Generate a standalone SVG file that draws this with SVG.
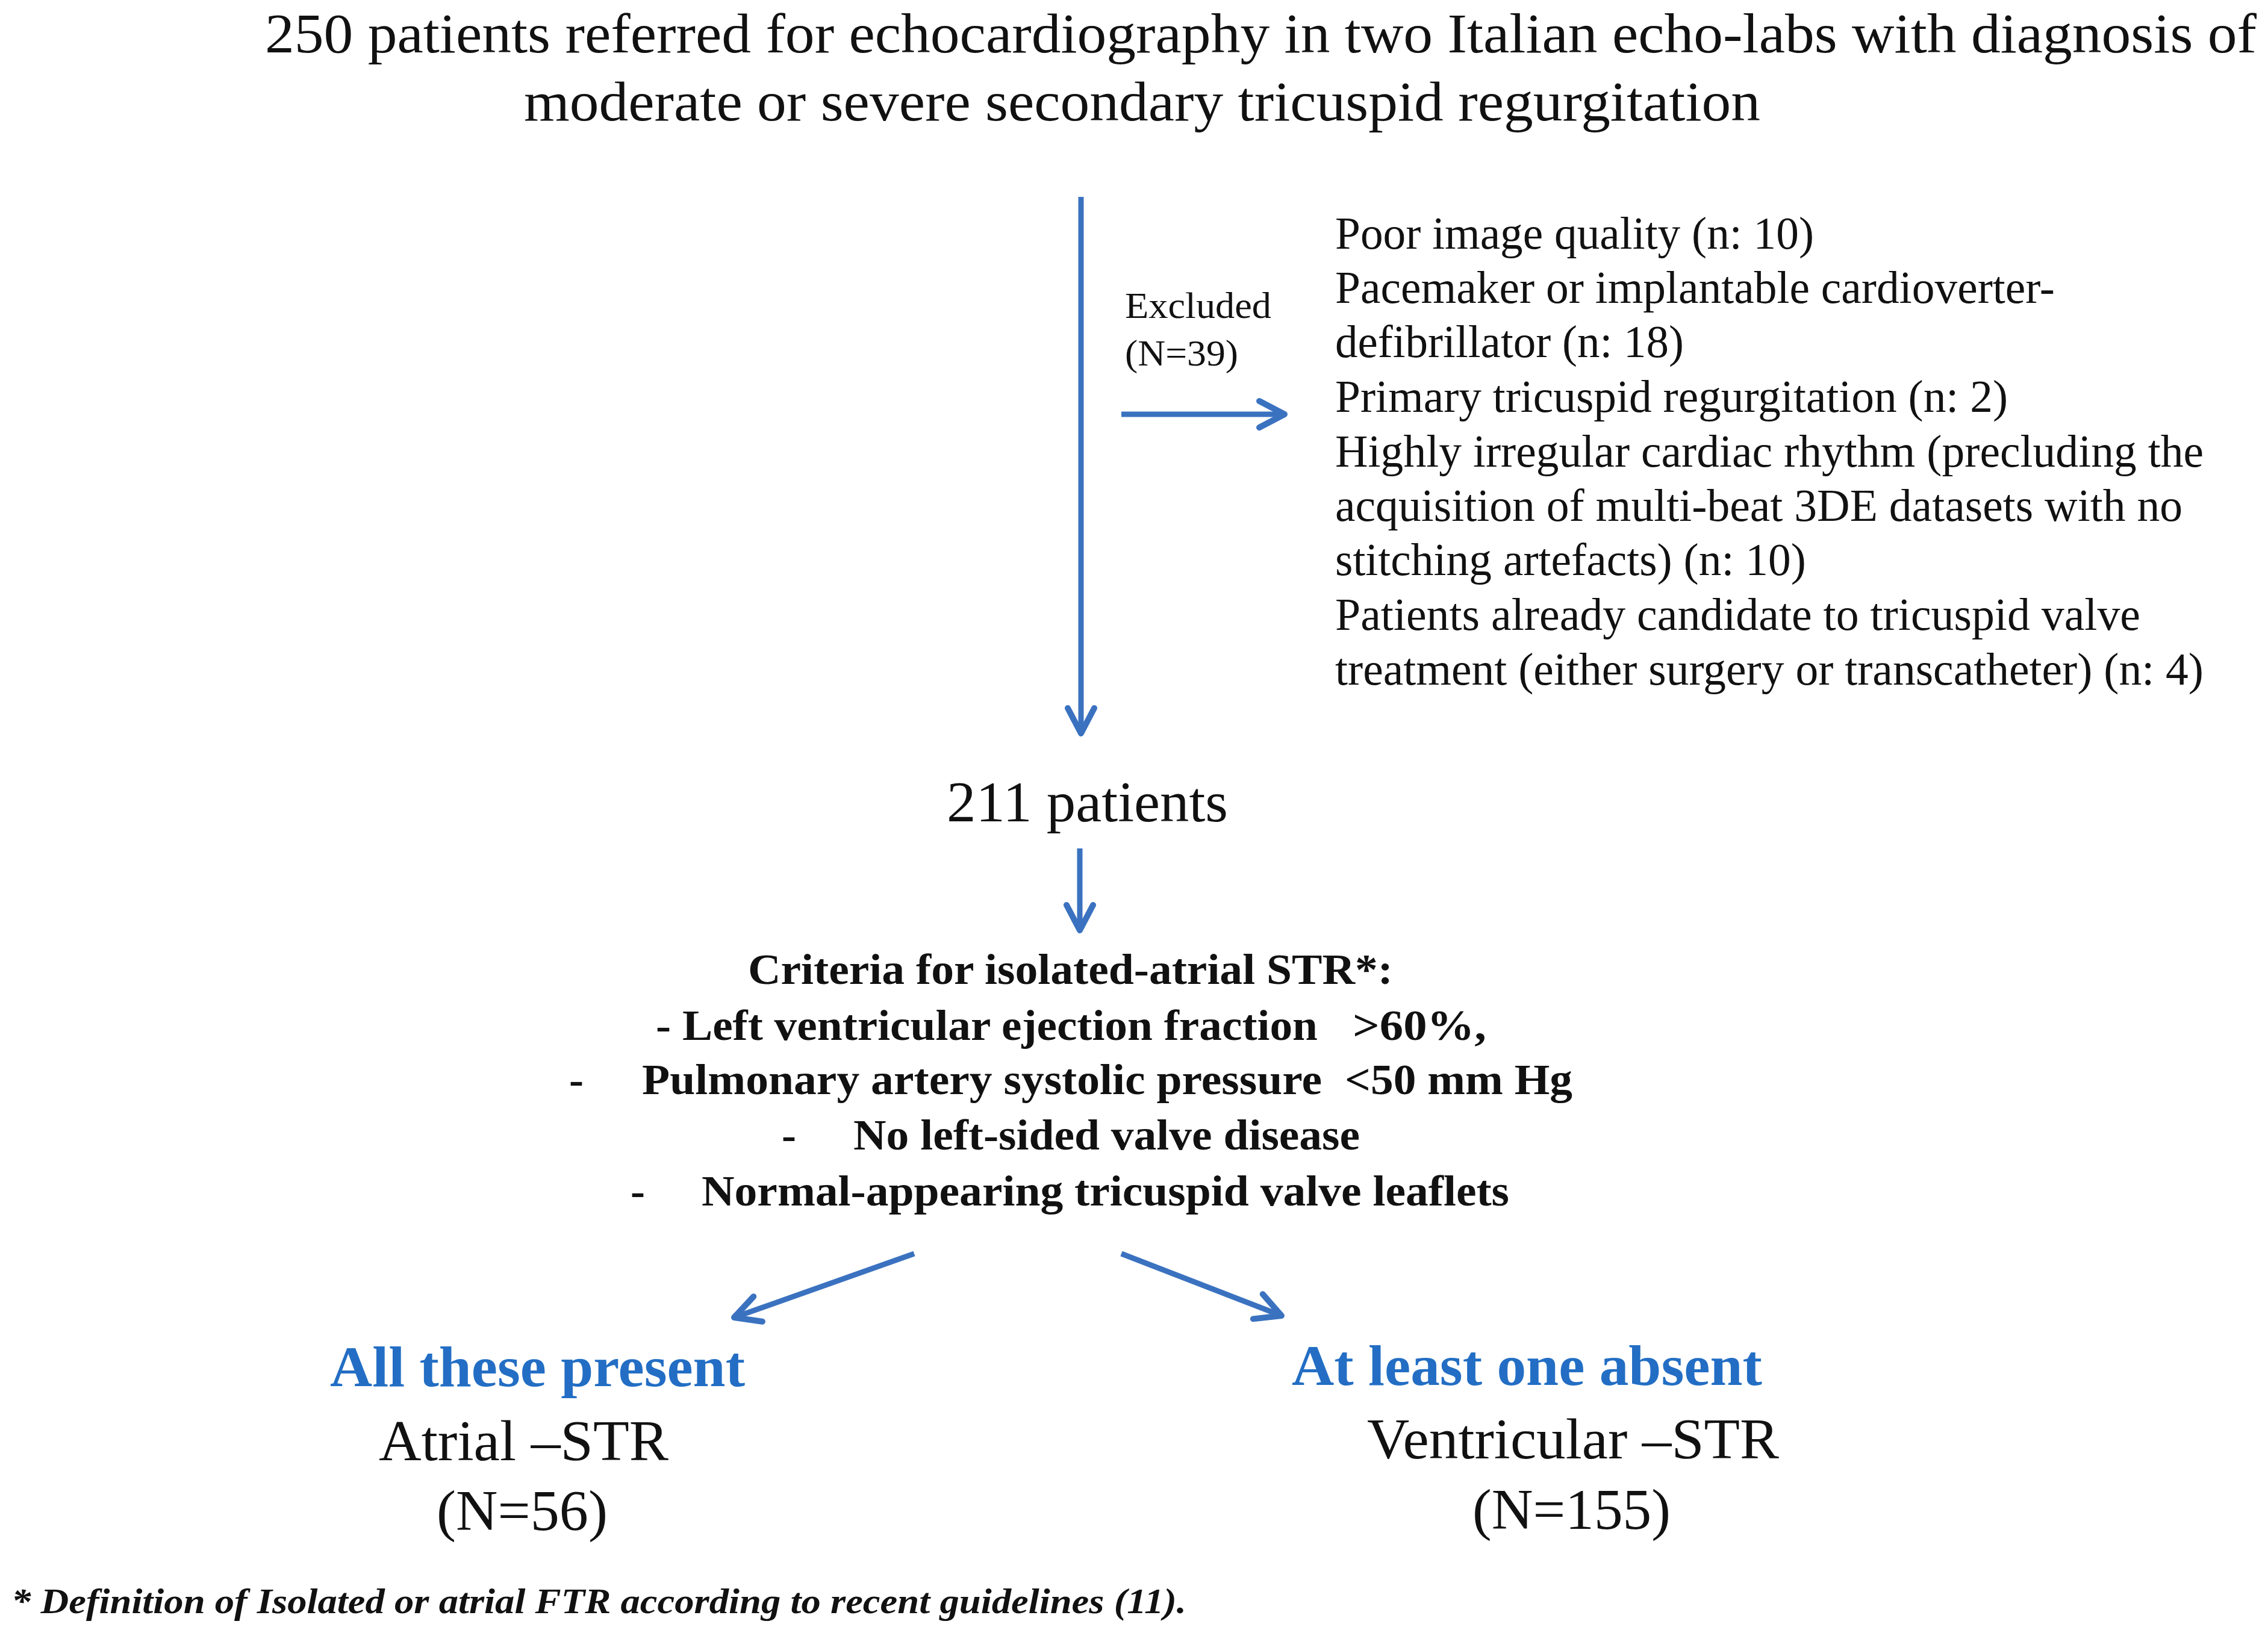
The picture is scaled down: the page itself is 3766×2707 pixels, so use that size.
<svg xmlns="http://www.w3.org/2000/svg" width="3766" height="2707" viewBox="0 0 3766 2707">
<style>
.t{font-family:"Liberation Serif","Times New Roman",serif;fill:#111}
.b{font-weight:bold}
.title{font-size:94px}
.lst{font-size:76px}
.exc{font-size:62px}
.crit{font-size:72px;font-weight:bold}
.big{font-size:96px}
.blue{font-size:96px;font-weight:bold;fill:#236EC4}
.foot{font-size:60px;font-weight:bold;font-style:italic}
.arr{stroke:#3B72C0;stroke-width:9;fill:none;marker-end:url(#ah)}
</style>
<defs>
<marker id="ah" markerUnits="userSpaceOnUse" markerWidth="60" markerHeight="60" refX="0" refY="0" orient="auto" overflow="visible" viewBox="-50 -30 60 60">
<path d="M -42 -22 L 0 0 L -42 22" fill="none" stroke="#3B72C0" stroke-width="10" stroke-linecap="round" stroke-linejoin="round"/>
</marker>
</defs>
<rect width="3766" height="2707" fill="#ffffff"/>
<g id="connectors">
<line class="arr" x1="1795" y1="327" x2="1795" y2="1218"/>
<line class="arr" x1="1862" y1="688" x2="2133" y2="688"/>
<line class="arr" x1="1793" y1="1409" x2="1793" y2="1545"/>
<line class="arr" x1="1518" y1="2082" x2="1219" y2="2188"/>
<line class="arr" x1="1862" y1="2082" x2="2128" y2="2185"/>
</g>
<g id="node-start">
<text class="t title" x="440" y="87" textLength="3307" lengthAdjust="spacingAndGlyphs">250 patients referred for echocardiography in two Italian echo-labs with diagnosis of</text>
<text class="t title" x="870" y="200" textLength="2053" lengthAdjust="spacingAndGlyphs">moderate or severe secondary tricuspid regurgitation</text>
</g>
<g id="label-excluded">
<text class="t exc" x="1868" y="528" textLength="243" lengthAdjust="spacingAndGlyphs">Excluded</text>
<text class="t exc" x="1868" y="607" textLength="188" lengthAdjust="spacingAndGlyphs">(N=39)</text>
</g>
<g id="node-exclusions">
<text class="t lst" x="2217" y="413" textLength="795" lengthAdjust="spacingAndGlyphs">Poor image quality (n: 10)</text>
<text class="t lst" x="2217" y="503" textLength="1195" lengthAdjust="spacingAndGlyphs">Pacemaker or implantable cardioverter-</text>
<text class="t lst" x="2217" y="593" textLength="579" lengthAdjust="spacingAndGlyphs">defibrillator (n: 18)</text>
<text class="t lst" x="2217" y="684" textLength="1117" lengthAdjust="spacingAndGlyphs">Primary tricuspid regurgitation (n: 2)</text>
<text class="t lst" x="2217" y="775" textLength="1442" lengthAdjust="spacingAndGlyphs">Highly irregular cardiac rhythm (precluding the</text>
<text class="t lst" x="2217" y="865" textLength="1407" lengthAdjust="spacingAndGlyphs">acquisition of multi-beat 3DE datasets with no</text>
<text class="t lst" x="2217" y="955" textLength="782" lengthAdjust="spacingAndGlyphs">stitching artefacts) (n: 10)</text>
<text class="t lst" x="2217" y="1046" textLength="1337" lengthAdjust="spacingAndGlyphs">Patients already candidate to tricuspid valve</text>
<text class="t lst" x="2217" y="1137" textLength="1442" lengthAdjust="spacingAndGlyphs">treatment (either surgery or transcatheter) (n: 4)</text>
</g>
<g id="node-211">
<text class="t big" x="1572" y="1364" textLength="467" lengthAdjust="spacingAndGlyphs">211 patients</text>
</g>
<g id="node-criteria">
<text class="t crit" x="1242" y="1634" textLength="1071" lengthAdjust="spacingAndGlyphs">Criteria for isolated-atrial STR*:</text>
<text class="t crit" x="1089" y="1727" textLength="1099" lengthAdjust="spacingAndGlyphs">- Left ventricular ejection fraction</text>
<text class="t crit" x="2246" y="1727" textLength="222" lengthAdjust="spacingAndGlyphs">&gt;60%,</text>
<text class="t crit" x="945" y="1817">-</text>
<text class="t crit" x="1066" y="1817" textLength="1129" lengthAdjust="spacingAndGlyphs">Pulmonary artery systolic pressure</text>
<text class="t crit" x="2233" y="1817" textLength="378" lengthAdjust="spacingAndGlyphs">&lt;50 mm Hg</text>
<text class="t crit" x="1298" y="1909">-</text>
<text class="t crit" x="1417" y="1909" textLength="841" lengthAdjust="spacingAndGlyphs">No left-sided valve disease</text>
<text class="t crit" x="1047" y="2002">-</text>
<text class="t crit" x="1165" y="2002" textLength="1341" lengthAdjust="spacingAndGlyphs">Normal-appearing tricuspid valve leaflets</text>
</g>
<g id="node-atrial">
<text class="t blue" x="548" y="2302" textLength="689" lengthAdjust="spacingAndGlyphs">All these present</text>
<text class="t big" x="629" y="2425" textLength="481" lengthAdjust="spacingAndGlyphs">Atrial –STR</text>
<text class="t big" x="725" y="2541" textLength="284" lengthAdjust="spacingAndGlyphs">(N=56)</text>
</g>
<g id="node-ventricular">
<text class="t blue" x="2145" y="2300" textLength="781" lengthAdjust="spacingAndGlyphs">At least one absent</text>
<text class="t big" x="2270" y="2422" textLength="684" lengthAdjust="spacingAndGlyphs">Ventricular –STR</text>
<text class="t big" x="2445" y="2539" textLength="329" lengthAdjust="spacingAndGlyphs">(N=155)</text>
</g>
<g id="footnote">
<text class="t foot" x="19" y="2679" textLength="1951" lengthAdjust="spacingAndGlyphs">* Definition of Isolated or atrial FTR according to recent guidelines (11).</text>
</g>
</svg>
